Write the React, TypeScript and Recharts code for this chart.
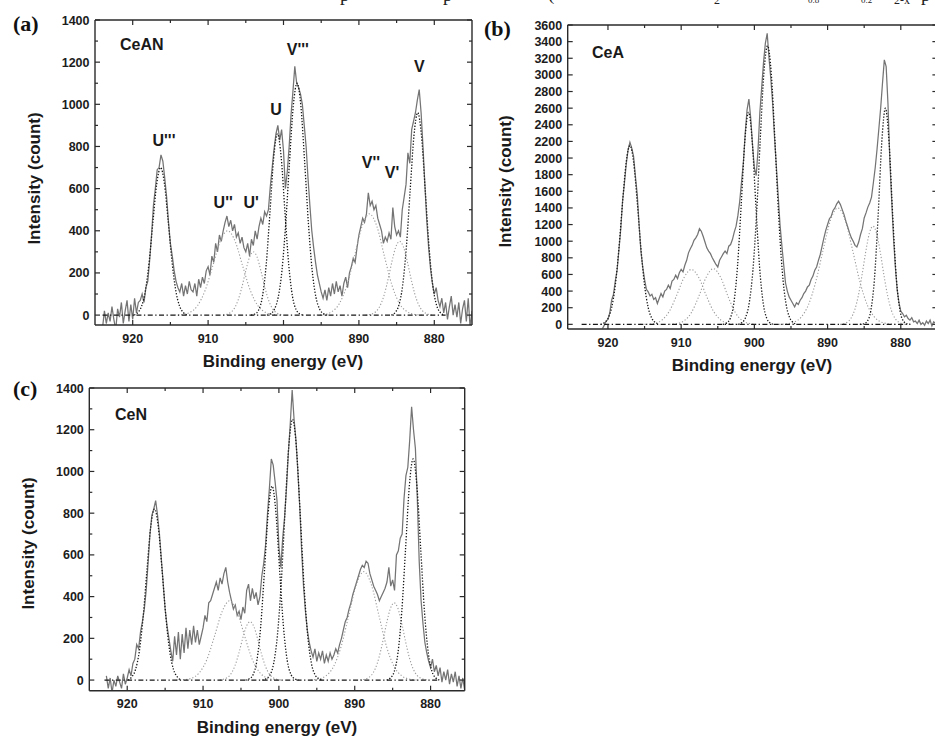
import React from 'react'
import { LineChart, Line, XAxis, YAxis, ReferenceDot } from 'recharts'

type Pt = { e: number; v: number }
type Pair = [number, number]

// measured spectra are sampled every 0.25 eV, starting at *_START and going down
const STEP = 0.25

// ─── (a) CeAN ────────────────────────────────────────────────────
const A_START = 924
const A_COUNTS = [
  -60, 20, -40, 10, -30, 40, -20, -70, 30, -10, 60, -40, 20, 70, -30, 50,
  -20, 80, 10, 60, 70, 100, 60, 130, 160, 260, 380, 520, 600, 690, 700, 760,
  730, 650, 560, 440, 340, 280, 210, 160, 130, 110, 150, 90, 140, 100, 160, 120,
  110, 150, 90, 170, 130, 180, 150, 210, 230, 190, 280, 250, 340, 300, 380, 350,
  400, 440, 470, 420, 450, 400, 430, 370, 390, 340, 370, 320, 300, 340, 280, 360,
  330, 400, 360, 420, 460, 430, 490, 470, 500, 610, 700, 790, 860, 900, 830, 880,
  780, 600, 680, 800, 950, 1060, 1180, 1100, 1080, 1050, 1000, 900, 800, 650, 520, 400,
  320, 250, 190, 150, 110, 80, 120, 70, 130, 90, 150, 100, 160, 110, 140, 90,
  150, 180, 130, 200, 230, 270, 250, 320, 380, 420, 460, 440, 480, 580, 520, 540,
  500, 520, 460, 430, 400, 340, 370, 350, 390, 360, 510, 420, 380, 400, 370, 500,
  560, 620, 770, 720, 880, 920, 960, 1020, 1070, 960, 800, 620, 450, 320, 220, 150,
  100, 130, 70, 40, 80, 10, 60, -20, 40, 90, 0, 50, -10, 60, -40, 30,
  70, -30, 80, -60, 20,
]
const A_U3: Pair[] = [[919.8, 0], [919.3, 13], [918.8, 44], [918.3, 119], [917.8, 258], [917.3, 449], [916.8, 626], [916.3, 700], [915.8, 626], [915.3, 449], [914.8, 258], [914.3, 119], [913.8, 44], [913.3, 13], [912.8, 0]]
const A_U2: Pair[] = [[914.4, 0], [913.4, 3], [912.4, 13], [911.4, 45], [910.4, 117], [909.4, 231], [908.4, 349], [907.4, 400], [906.4, 349], [905.4, 231], [904.4, 117], [903.4, 45], [902.4, 13], [901.4, 3], [900.4, 0]]
const A_U1: Pair[] = [[908, 0], [907.5, 4], [907, 13], [906.5, 33], [906, 73], [905.5, 135], [905, 211], [904.5, 275], [904, 300], [903.5, 275], [903, 211], [902.5, 135], [902, 73], [901.5, 33], [901, 13], [900.5, 4], [900, 0]]
const A_U: Pair[] = [[904.3, 0], [903.8, 5], [903.3, 24], [902.8, 87], [902.3, 237], [901.8, 485], [901.3, 746], [900.8, 860], [900.3, 746], [899.8, 485], [899.3, 237], [898.8, 87], [898.3, 24], [897.8, 5], [897.3, 0]]
const A_V3: Pair[] = [[902.2, 0], [901.7, 7], [901.2, 28], [900.7, 85], [900.2, 213], [899.7, 437], [899.2, 730], [898.7, 993], [898.2, 1100], [897.7, 993], [897.2, 730], [896.7, 437], [896.2, 213], [895.7, 85], [895.2, 28], [894.7, 7], [894.2, 0]]
const A_V2: Pair[] = [[895.6, 0], [894.6, 3], [893.6, 16], [892.6, 54], [891.6, 140], [890.6, 277], [889.6, 419], [888.6, 480], [887.6, 419], [886.6, 277], [885.6, 140], [884.6, 54], [883.6, 16], [882.6, 3], [881.6, 0]]
const A_V1: Pair[] = [[889.1, 0], [888.6, 2], [888.1, 8], [887.6, 22], [887.1, 51], [886.6, 102], [886.1, 175], [885.6, 257], [885.1, 324], [884.6, 350], [884.1, 324], [883.6, 257], [883.1, 175], [882.6, 102], [882.1, 51], [881.6, 22], [881.1, 8], [880.6, 2], [880.1, 0]]
const A_V: Pair[] = [[885.7, 0], [885.2, 12], [884.7, 47], [884.2, 140], [883.7, 325], [883.2, 593], [882.7, 851], [882.2, 960], [881.7, 851], [881.2, 593], [880.7, 325], [880.2, 140], [879.7, 47], [879.2, 12], [878.7, 0]]
const A_BASE: Pair[] = [[924, 0], [878.5, 0]]
const A_PEAK_LABELS = [
  { text: "U'''", e: 915.85, v: 802 },
  { text: "U''", e: 908.0, v: 508 },
  { text: "U'", e: 904.3, v: 508 },
  { text: 'U', e: 901.0, v: 949 },
  { text: "V'''", e: 898.1, v: 1234 },
  { text: "V''", e: 888.4, v: 698 },
  { text: "V'", e: 885.6, v: 650 },
  { text: 'V', e: 882.0, v: 1153 },
]

// ─── (b) CeA ─────────────────────────────────────────────────────
const B_START = 920.75
const B_COUNTS = [
  -50, -10, 40,
  60, 140, 290, 360, 520, 650, 900, 1150, 1490, 1700, 1930, 2100, 2190, 2120, 2020, 1780,
  1560, 1200, 880, 690, 540, 420, 390, 340, 360, 300, 320, 250, 310, 370, 330, 400,
  420, 470, 430, 520, 540, 590, 550, 620, 660, 630, 710, 770, 860, 910, 950, 1010,
  1040, 1080, 1150, 1120, 1060, 990, 920, 880, 850, 800, 760, 720, 690, 770, 810, 850,
  880, 850, 940, 960, 1020, 1110, 1180, 1310, 1480, 1720, 1950, 2300, 2580, 2710, 2480, 2150,
  1880, 1790, 2100, 2550, 2850, 3150, 3380, 3500, 3200, 2950, 2650, 2250, 1900, 1550, 1200, 950,
  720, 500, 400, 330, 290, 250, 210, 260, 240, 290, 320, 370, 400, 450, 470, 540,
  580, 650, 690, 770, 840, 940, 1040, 1130, 1200, 1270, 1300, 1370, 1400, 1450, 1480, 1440,
  1380, 1320, 1240, 1170, 1100, 1040, 1000, 950, 930, 990, 1080, 1150, 1280, 1340, 1410, 1460,
  1530, 1700, 1880, 2100, 2350, 2600, 2900, 3180, 3100, 2650, 1980, 1500, 1050, 700, 420, 260,
  160, 130, 90, 110, 70, 50, 80, 30, 40, 10, 50, 0, 20, -10, 40, 10,
  50, -20, 30, 10, 0,
]
const B_U3: Pair[] = [[921, 0], [920.5, 20], [920, 71], [919.5, 200], [919, 469], [918.5, 914], [918, 1471], [917.5, 1954], [917, 2150], [916.5, 1954], [916, 1471], [915.5, 914], [915, 469], [914.5, 200], [914, 71], [913.5, 20], [913, 0]]
const B_U2: Pair[] = [[915.6, 0], [914.6, 2], [913.6, 13], [912.6, 53], [911.6, 160], [910.6, 352], [909.6, 564], [908.6, 660], [907.6, 564], [906.6, 352], [905.6, 160], [904.6, 53], [903.6, 13], [902.6, 2], [901.6, 0]]
const B_U1: Pair[] = [[911.6, 0], [910.6, 9], [909.6, 42], [908.6, 141], [907.6, 335], [906.6, 563], [905.6, 670], [904.6, 563], [903.6, 335], [902.6, 141], [901.6, 42], [900.6, 9], [899.6, 0]]
const B_U: Pair[] = [[904.3, 0], [903.8, 15], [903.3, 71], [902.8, 258], [902.3, 704], [901.8, 1438], [901.3, 2211], [900.8, 2550], [900.3, 2211], [899.8, 1438], [899.3, 704], [898.8, 258], [898.3, 71], [897.8, 15], [897.3, 0]]
const B_V3: Pair[] = [[902.2, 0], [901.7, 22], [901.2, 84], [900.7, 258], [900.2, 650], [899.7, 1330], [899.2, 2224], [898.7, 3025], [898.2, 3350], [897.7, 3025], [897.2, 2224], [896.7, 1330], [896.2, 650], [895.7, 258], [895.2, 84], [894.7, 22], [894.2, 0]]
const B_V2: Pair[] = [[896.6, 0], [895.6, 6], [894.6, 25], [893.6, 88], [892.6, 238], [891.6, 517], [890.6, 899], [889.6, 1253], [888.6, 1400], [887.6, 1253], [886.6, 899], [885.6, 517], [884.6, 238], [883.6, 88], [882.6, 25], [881.6, 6], [880.6, 0]]
const B_V1: Pair[] = [[888.3, 0], [887.8, 8], [887.3, 27], [886.8, 74], [886.3, 172], [885.8, 345], [885.3, 590], [884.8, 867], [884.3, 1093], [883.8, 1180], [883.3, 1093], [882.8, 867], [882.3, 590], [881.8, 345], [881.3, 172], [880.8, 74], [880.3, 27], [879.8, 8], [879.3, 0]]
const B_V: Pair[] = [[885.6, 0], [885.1, 5], [884.6, 34], [884.1, 163], [883.6, 546], [883.1, 1300], [882.6, 2187], [882.1, 2600], [881.6, 2187], [881.1, 1300], [880.6, 546], [880.1, 163], [879.6, 34], [879.1, 5], [878.6, 0]]
const B_BASE: Pair[] = [[923.6, 0], [878.8, 0]]

// ─── (c) CeN ─────────────────────────────────────────────────────
const C_START = 922.75
const C_COUNTS = [
  20, -40, 10,
  -60, 0, -30, 20, -10, -40, 30, -20, 10, 50, 20, 80, 100, 170, 150, 230,
  280, 340, 430, 560, 700, 790, 820, 860, 790, 700, 580, 460, 340, 260, 200, 140,
  90, 210, 120, 230, 100, 220, 130, 250, 150, 240, 170, 260, 180, 240, 170, 210,
  250, 310, 280, 370, 380, 410, 440, 470, 430, 490, 460, 510, 540, 470, 420, 380,
  340, 360, 310, 330, 290, 350, 320, 430, 460, 380, 440, 390, 420, 360, 400, 500,
  560, 650, 800, 920, 1060, 1030, 950, 860, 640, 540, 680, 780, 920, 1090, 1230, 1390,
  1250, 1150, 1000, 830, 620, 450, 330, 240, 180, 140, 110, 150, 90, 130, 100, 140,
  80, 120, 90, 130, 100, 120, 150, 130, 170, 200, 240, 280, 300, 340, 370, 410,
  440, 470, 500, 530, 550, 540, 570, 560, 510, 480, 450, 430, 410, 380, 400, 420,
  440, 470, 540, 450, 480, 430, 600, 620, 680, 700, 870, 980, 1020, 1150, 1310, 1200,
  1110, 870, 570, 380, 270, 180, 130, 90, 60, 100, 40, 70, 20, 60, -10, 40,
  0, 50, -20, 30, -10, 40, -30, 20, -40, 10, -50,
]
const C_U3: Pair[] = [[919.9, 0], [919.4, 15], [918.9, 51], [918.4, 139], [917.9, 303], [917.4, 526], [916.9, 734], [916.4, 820], [915.9, 734], [915.4, 526], [914.9, 303], [914.4, 139], [913.9, 51], [913.4, 15], [912.9, 0]]
const C_U2: Pair[] = [[913.5, 0], [912.5, 2], [911.5, 9], [910.5, 35], [909.5, 98], [908.5, 209], [907.5, 327], [906.5, 380], [905.5, 327], [904.5, 209], [903.5, 98], [902.5, 35], [901.5, 9], [900.5, 2], [899.5, 0]]
const C_U1: Pair[] = [[907.8, 0], [907.3, 4], [906.8, 12], [906.3, 31], [905.8, 68], [905.3, 126], [904.8, 197], [904.3, 256], [903.8, 280], [903.3, 256], [902.8, 197], [902.3, 126], [901.8, 68], [901.3, 31], [900.8, 12], [900.3, 4], [899.8, 0]]
const C_U: Pair[] = [[904.4, 0], [903.9, 6], [903.4, 26], [902.9, 94], [902.4, 257], [901.9, 525], [901.4, 806], [900.9, 930], [900.4, 806], [899.9, 525], [899.4, 257], [898.9, 94], [898.4, 26], [897.9, 6], [897.4, 0]]
const C_V3: Pair[] = [[902.2, 0], [901.7, 6], [901.2, 23], [900.7, 78], [900.2, 213], [899.7, 461], [899.2, 803], [898.7, 1119], [898.2, 1250], [897.7, 1119], [897.2, 803], [896.7, 461], [896.2, 213], [895.7, 78], [895.2, 23], [894.7, 6], [894.2, 0]]
const C_V2: Pair[] = [[895.8, 0], [894.8, 5], [893.8, 20], [892.8, 64], [891.8, 160], [890.8, 308], [889.8, 456], [888.8, 520], [887.8, 456], [886.8, 308], [885.8, 160], [884.8, 64], [883.8, 20], [882.8, 5], [881.8, 0]]
const C_V1: Pair[] = [[889.3, 0], [888.8, 3], [888.3, 9], [887.8, 23], [887.3, 54], [886.8, 108], [886.3, 185], [885.8, 272], [885.3, 343], [884.8, 370], [884.3, 343], [883.8, 272], [883.3, 185], [882.8, 108], [882.3, 54], [881.8, 23], [881.3, 9], [880.8, 3], [880.3, 0]]
const C_V: Pair[] = [[885.8, 0], [885.3, 10], [884.8, 40], [884.3, 130], [883.8, 326], [883.3, 628], [882.8, 930], [882.3, 1060], [881.8, 930], [881.3, 628], [880.8, 326], [880.3, 130], [879.8, 40], [879.3, 10], [878.8, 0]]
const C_BASE: Pair[] = [[923, 0], [878.8, 0]]

// ─── ticks ───────────────────────────────────────────────────────
const X_TICKS = [920, 915, 910, 905, 900, 895, 890, 885, 880]
const Y_TICKS_1400 = [0, 100, 200, 300, 400, 500, 600, 700, 800, 900, 1000, 1100, 1200, 1300, 1400]
const Y_TICKS_3600 = [0, 200, 400, 600, 800, 1000, 1200, 1400, 1600, 1800, 2000, 2200, 2400, 2600, 2800, 3000, 3200, 3400, 3600]

const spectrum = (start: number, counts: number[]): Pt[] =>
  counts.map((v, i) => ({ e: +(start - i * STEP).toFixed(2), v }))
const pts = (pairs: Pair[]): Pt[] => pairs.map(([e, v]) => ({ e, v }))

const SANS = 'Liberation Sans, Arial, Helvetica, sans-serif'
const SERIF = 'Liberation Serif, Times New Roman, serif'
const AXIS = '#2a2a2a'
const TICK_FONT = { fontFamily: SANS, fontWeight: 700, fontSize: 12.5, fill: '#1c1c1c' }

type Side = 'bottom' | 'top' | 'left' | 'right'

// inward ticks, major ones longer; tickSize/tickMargin cancel so x,y sit on the axis line
function tickRenderer(side: Side, major: number, labelled: boolean) {
  return (p: any) => {
    const { x, y, payload } = p
    const val = payload.value as number
    const isMajor = Math.abs(val % major) < 1e-6
    const len = isMajor ? 5 : 3
    const dx = side === 'left' ? len : side === 'right' ? -len : 0
    const dy = side === 'bottom' ? -len : side === 'top' ? len : 0
    return (
      <g>
        <path d={`M${x},${y}L${x + dx},${y + dy}`} stroke={AXIS} strokeWidth={1.2} fill="none" />
        {labelled && isMajor && side === 'bottom' && (
          <text x={x} y={y + 17.5} textAnchor="middle" {...TICK_FONT}>{val}</text>
        )}
        {labelled && isMajor && side === 'left' && (
          <text x={x - 5.5} y={y + 4.5} textAnchor="end" {...TICK_FONT}>{val}</text>
        )}
      </g>
    )
  }
}

interface PanelProps {
  left: number; top: number; width: number; height: number
  margin: { top: number; right: number; bottom: number; left: number }
  yAxisWidth: number; xAxisHeight: number
  xDomain: [number, number]; yDomain: [number, number]
  yTicks: number[]; yMajor: number
  data: Pt[]; dark: Pair[][]; light: Pair[][]; base: Pair[]
  labels?: { text: string; e: number; v: number }[]
}

function Panel(props: PanelProps) {
  const { left, top, width, height, margin, yAxisWidth, xAxisHeight, xDomain, yDomain, yTicks, yMajor } = props
  const axisLine = { stroke: AXIS, strokeWidth: 1.4 }
  const base = pts(props.base)
  return (
    <div style={{ position: 'absolute', left, top, width, height }}>
      <LineChart width={width} height={height} margin={margin}>
        <XAxis xAxisId="b" type="number" dataKey="e" domain={xDomain} reversed allowDataOverflow
          ticks={X_TICKS} interval={0} height={xAxisHeight} tickSize={0} tickMargin={0} tickLine={false}
          axisLine={axisLine} tick={tickRenderer('bottom', 10, true)} />
        <XAxis xAxisId="t" orientation="top" type="number" dataKey="e" domain={xDomain} reversed allowDataOverflow
          ticks={X_TICKS} interval={0} height={1} tickSize={0} tickMargin={0} tickLine={false}
          axisLine={axisLine} tick={tickRenderer('top', 10, false)} />
        <YAxis yAxisId="l" type="number" domain={yDomain} allowDataOverflow ticks={yTicks} interval={0}
          width={yAxisWidth} tickSize={0} tickMargin={0} tickLine={false}
          axisLine={axisLine} tick={tickRenderer('left', yMajor, true)} />
        <YAxis yAxisId="r" orientation="right" type="number" domain={yDomain} allowDataOverflow ticks={yTicks} interval={0}
          width={1} tickSize={0} tickMargin={0} tickLine={false}
          axisLine={axisLine} tick={tickRenderer('right', yMajor, false)} />

        {/* invisible series so the mirrored top/right axes get their ticks */}
        <Line xAxisId="t" yAxisId="r" data={base} dataKey="v" stroke="none" dot={false} activeDot={false}
          isAnimationActive={false} />

        <Line xAxisId="b" yAxisId="l" data={props.data} dataKey="v" type="linear" stroke="#747474"
          strokeWidth={1.25} dot={false} activeDot={false} isAnimationActive={false} />
        {props.light.map((c, i) => (
          <Line key={'l' + i} xAxisId="b" yAxisId="l" data={pts(c)} dataKey="v" type="monotone"
            stroke="#9a9a9a" strokeWidth={1.1} strokeDasharray="1.2 2" dot={false} activeDot={false}
            isAnimationActive={false} />
        ))}
        {props.dark.map((c, i) => (
          <Line key={'d' + i} xAxisId="b" yAxisId="l" data={pts(c)} dataKey="v" type="monotone"
            stroke="#161616" strokeWidth={1.3} strokeDasharray="1.3 1.7" dot={false} activeDot={false}
            isAnimationActive={false} />
        ))}
        <Line xAxisId="b" yAxisId="l" data={base} dataKey="v" type="linear" stroke="#161616"
          strokeWidth={1.3} strokeDasharray="5 2.5 1.3 2.5" dot={false} activeDot={false} isAnimationActive={false} />

        {(props.labels ?? []).map(l => (
          <ReferenceDot key={l.text} xAxisId="b" yAxisId="l" x={l.e} y={l.v} r={1}
            shape={(p: any) => (
              <text x={p.cx} y={p.cy} textAnchor="middle" fontFamily={SANS} fontWeight={700}
                fontSize={16} fill="#1a1a1a">{l.text}</text>
            )} />
        ))}
      </LineChart>
    </div>
  )
}

const TITLE = { fontFamily: SANS, fontWeight: 700, fontSize: 17, fill: '#1a1a1a' }
const NAME = { fontFamily: SANS, fontWeight: 700, fontSize: 16, fill: '#1a1a1a' }
const LETTER = { fontFamily: SERIF, fontWeight: 700, fontSize: 22, fill: '#111' }

export default function App() {
  return (
    <div style={{ position: 'absolute', left: 0, top: 0, width: 935, height: 737, overflow: 'hidden', background: '#fff' }}>
      <Panel left={0} top={0} width={480} height={380} margin={{ top: 19, right: 7, bottom: 0, left: 0 }}
        yAxisWidth={95} xAxisHeight={55} xDomain={[875, 925]} yDomain={[-47, 1400]}
        yTicks={Y_TICKS_1400} yMajor={200} data={spectrum(A_START, A_COUNTS)}
        dark={[A_U3, A_U, A_V3, A_V]} light={[A_U2, A_U1, A_V2, A_V1]} base={A_BASE}
        labels={A_PEAK_LABELS} />
      <Panel left={480} top={0} width={460} height={384} margin={{ top: 24, right: 1.6, bottom: 0, left: 0 }}
        yAxisWidth={87.7} xAxisHeight={55} xDomain={[875, 925.5]} yDomain={[-56, 3600]}
        yTicks={Y_TICKS_3600} yMajor={200} data={spectrum(B_START, B_COUNTS)}
        dark={[B_U3, B_U, B_V3, B_V]} light={[B_U2, B_U1, B_V2, B_V1]} base={B_BASE} />
      <Panel left={0} top={370} width={480} height={367} margin={{ top: 17, right: 14.3, bottom: 0, left: 0 }}
        yAxisWidth={89.3} xAxisHeight={46.3} xDomain={[875.5, 925]} yDomain={[-51, 1400]}
        yTicks={Y_TICKS_1400} yMajor={200} data={spectrum(C_START, C_COUNTS)}
        dark={[C_U3, C_U, C_V3, C_V]} light={[C_U2, C_U1, C_V2, C_V1]} base={C_BASE} />

      <svg width={935} height={737} style={{ position: 'absolute', left: 0, top: 0, pointerEvents: 'none' }}>
        {/* clipped caption line above the figure */}
        <g fontFamily={SERIF} fill="#222">
          <text x={340} y={1} fontSize={19}>p</text>
          <text x={443} y={1} fontSize={19}>p</text>
          <text x={548} y={0} fontSize={19}>(</text>
          <text x={714} y={4} fontSize={12}>2</text>
          <text x={808} y={3} fontSize={9}>0.8</text>
          <text x={861} y={3} fontSize={9}>0.2</text>
          <text x={894} y={4} fontSize={12}>2-x</text>
          <text x={921} y={1} fontSize={19}>p</text>
        </g>

        <text x={13} y={31} {...LETTER}>(a)</text>
        <text x={120} y={50} {...NAME}>CeAN</text>
        <text x={40} y={178.5} transform="rotate(-90 40 178.5)" textAnchor="middle" {...TITLE}>Intensity (count)</text>
        <text x={283} y={367} textAnchor="middle" {...TITLE}>Binding energy (eV)</text>

        <text x={484} y={36} {...LETTER}>(b)</text>
        <text x={592} y={58} {...NAME}>CeA</text>
        <text x={511} y={181.5} transform="rotate(-90 511 181.5)" textAnchor="middle" {...TITLE}>Intensity (count)</text>
        <text x={752} y={371} textAnchor="middle" {...TITLE}>Binding energy (eV)</text>

        <text x={13} y={396} {...LETTER}>(c)</text>
        <text x={115} y={420} {...NAME}>CeN</text>
        <text x={34} y={543.5} transform="rotate(-90 34 543.5)" textAnchor="middle" {...TITLE}>Intensity (count)</text>
        <text x={277} y={733} textAnchor="middle" {...TITLE}>Binding energy (eV)</text>
      </svg>
    </div>
  )
}
